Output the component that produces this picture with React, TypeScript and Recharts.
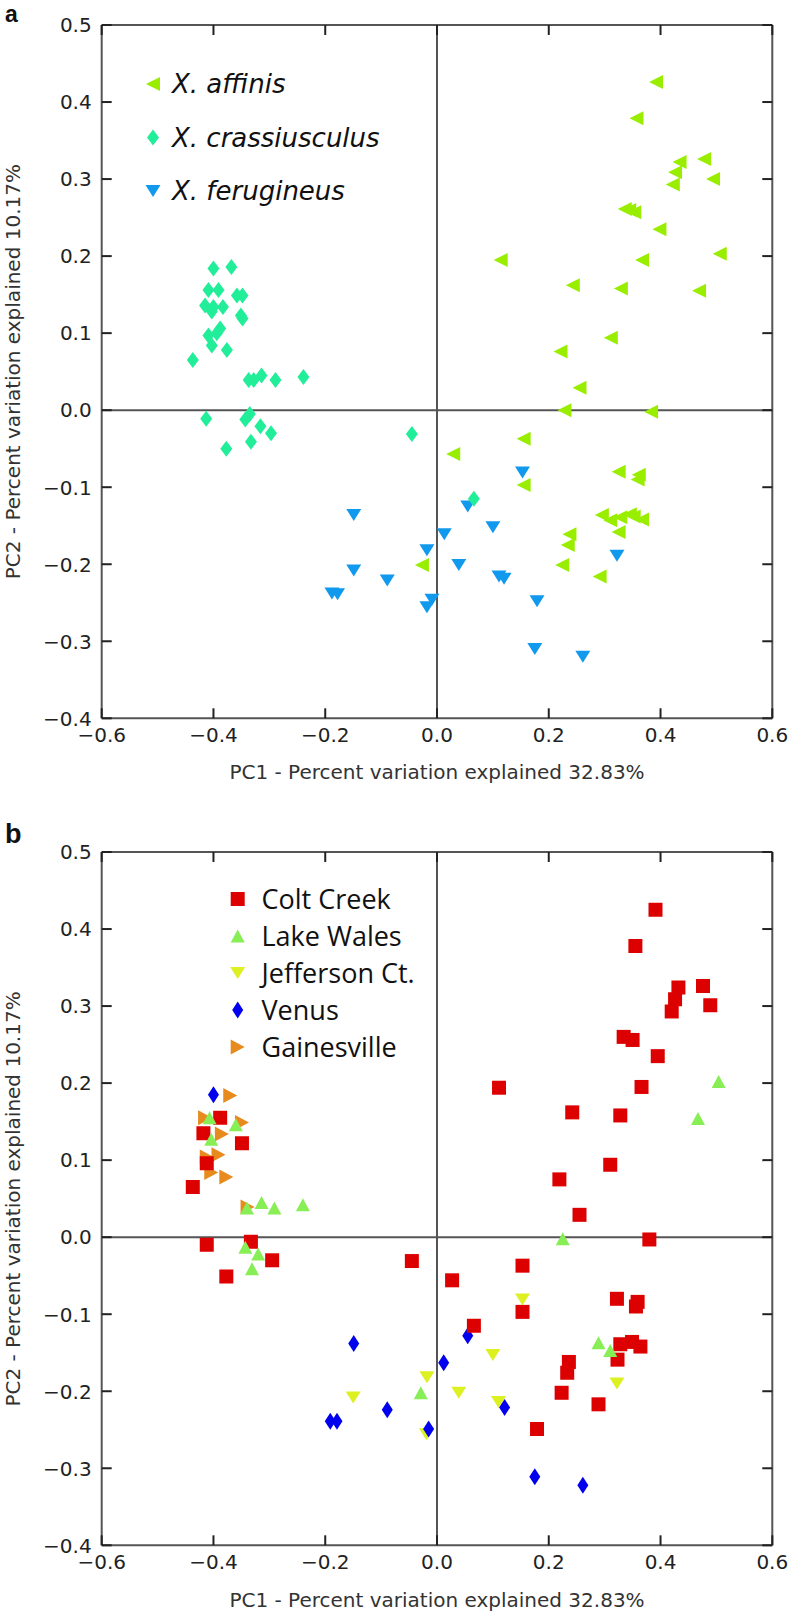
import React from 'react';
import { ScatterChart, Scatter, XAxis, YAxis, ReferenceLine } from 'recharts';

// ---------------- data ----------------
const xTicks = [-0.6, -0.4, -0.2, 0, 0.2, 0.4, 0.6];
const yTicks = [-0.4, -0.3, -0.2, -0.1, 0, 0.1, 0.2, 0.3, 0.4, 0.5];
const xTitle = 'PC1 - Percent variation explained 32.83%';
const yTitle = 'PC2 - Percent variation explained 10.17%';

// Panel a: by species
const affinisPts: [number, number][] = [
  [0.392, 0.426], [0.357, 0.379], [0.434, 0.322], [0.478, 0.326], [0.426, 0.309], [0.494, 0.3],
  [0.422, 0.293], [0.336, 0.261], [0.344, 0.26], [0.353, 0.257], [0.398, 0.235], [0.114, 0.195],
  [0.367, 0.195], [0.506, 0.203], [0.243, 0.162], [0.329, 0.158], [0.469, 0.155], [0.311, 0.094],
  [0.221, 0.076], [0.255, 0.029], [0.228, 0.0], [0.383, -0.002], [0.155, -0.037], [0.029, -0.057],
  [0.155, -0.097], [0.325, -0.08], [0.361, -0.084], [0.359, -0.09], [0.295, -0.136], [0.31, -0.143],
  [0.328, -0.139], [0.345, -0.135], [0.352, -0.138], [0.367, -0.142], [0.325, -0.158], [0.237, -0.161],
  [0.234, -0.175], [0.224, -0.201], [0.291, -0.216], [-0.027, -0.201],
];
const crassiusculusPts: [number, number][] = [
  [-0.4, 0.184], [-0.368, 0.186], [-0.409, 0.156], [-0.391, 0.156], [-0.415, 0.136], [-0.4, 0.134],
  [-0.383, 0.134], [-0.403, 0.128], [-0.358, 0.149], [-0.348, 0.149], [-0.351, 0.123], [-0.348, 0.119],
  [-0.409, 0.097], [-0.394, 0.1], [-0.388, 0.106], [-0.403, 0.084], [-0.376, 0.078], [-0.437, 0.065],
  [-0.337, 0.039], [-0.328, 0.039], [-0.314, 0.045], [-0.289, 0.039], [-0.239, 0.043], [-0.413, -0.011],
  [-0.343, -0.012], [-0.335, -0.005], [-0.316, -0.021], [-0.297, -0.03], [-0.333, -0.041], [-0.377, -0.05],
  [-0.045, -0.031], [0.066, -0.115],
];
const ferugineusPts: [number, number][] = [
  [-0.149, -0.136], [-0.149, -0.208], [-0.188, -0.238], [-0.178, -0.239], [-0.089, -0.221], [0.153, -0.081],
  [0.055, -0.125], [0.1, -0.152], [0.013, -0.161], [-0.018, -0.182], [0.039, -0.201], [0.111, -0.216],
  [0.12, -0.219], [0.322, -0.189], [-0.009, -0.246], [-0.018, -0.256], [0.179, -0.248], [0.175, -0.31],
  [0.261, -0.32],
];

// Panel b: by location
const coltCreekPts: [number, number][] = [
  [-0.388, 0.155], [-0.418, 0.135], [-0.349, 0.122], [-0.412, 0.096], [-0.437, 0.065], [-0.412, -0.01],
  [-0.333, -0.006], [-0.295, -0.03], [-0.377, -0.051], [0.391, 0.425], [0.355, 0.378], [0.432, 0.324],
  [0.476, 0.326], [0.426, 0.309], [0.489, 0.301], [0.42, 0.293], [0.334, 0.26], [0.35, 0.256],
  [0.395, 0.235], [0.111, 0.194], [0.366, 0.195], [0.242, 0.162], [0.328, 0.158], [0.31, 0.094],
  [0.219, 0.075], [0.255, 0.029], [0.38, -0.003], [-0.045, -0.031], [0.153, -0.037], [0.027, -0.056],
  [0.153, -0.097], [0.066, -0.115], [0.322, -0.08], [0.359, -0.084], [0.356, -0.09], [0.328, -0.139],
  [0.349, -0.136], [0.364, -0.142], [0.323, -0.159], [0.236, -0.162], [0.233, -0.176], [0.223, -0.202],
  [0.289, -0.217], [0.179, -0.249],
];
const lakeWalesPts: [number, number][] = [
  [-0.407, 0.155], [-0.36, 0.146], [-0.404, 0.127], [-0.34, 0.038], [-0.314, 0.045], [-0.291, 0.038],
  [-0.24, 0.042], [-0.343, -0.013], [-0.32, -0.022], [-0.331, -0.041], [0.504, 0.202], [0.467, 0.154],
  [0.225, -0.002], [0.289, -0.137], [0.31, -0.147], [-0.029, -0.202],
];
const jeffersonPts: [number, number][] = [
  [-0.15, -0.208], [0.153, -0.081], [0.1, -0.153], [-0.018, -0.182], [0.039, -0.202], [0.11, -0.214],
  [0.322, -0.19], [-0.019, -0.256],
];
const venusPts: [number, number][] = [
  [-0.4, 0.185], [-0.149, -0.138], [-0.191, -0.239], [-0.179, -0.239], [-0.089, -0.224], [0.055, -0.128],
  [0.012, -0.163], [-0.015, -0.249], [0.121, -0.221], [0.175, -0.311], [0.261, -0.322],
];
const gainesvillePts: [number, number][] = [
  [-0.37, 0.184], [-0.415, 0.155], [-0.349, 0.149], [-0.385, 0.134], [-0.391, 0.107], [-0.412, 0.104],
  [-0.404, 0.084], [-0.377, 0.078], [-0.339, 0.039],
];

// ---------------- styling ----------------
type Kind = 'left' | 'right' | 'up' | 'down' | 'diamond' | 'square';
type Series = { name: string; pts: [number, number][]; color: string; kind: Kind; w: number; h: number };

const seriesA: Series[] = [
  { name: 'X. ferugineus', pts: ferugineusPts, color: '#1199EE', kind: 'down', w: 15, h: 12 },
  { name: 'X. affinis', pts: affinisPts, color: '#99EE00', kind: 'left', w: 14, h: 14 },
  { name: 'X. crassiusculus', pts: crassiusculusPts, color: '#22EE99', kind: 'diamond', w: 12, h: 16 },
];
const legendA = [seriesA[1], seriesA[2], seriesA[0]];

const seriesB: Series[] = [
  { name: 'Jefferson Ct.', pts: jeffersonPts, color: '#DDF022', kind: 'down', w: 15, h: 12 },
  { name: 'Venus', pts: venusPts, color: '#0000EE', kind: 'diamond', w: 11, h: 17 },
  { name: 'Gainesville', pts: gainesvillePts, color: '#E88B1F', kind: 'right', w: 14, h: 15 },
  { name: 'Colt Creek', pts: coltCreekPts, color: '#DD0000', kind: 'square', w: 14, h: 14 },
  { name: 'Lake Wales', pts: lakeWalesPts, color: '#88EE55', kind: 'up', w: 14, h: 13 },
];
const legendB = [seriesB[3], seriesB[4], seriesB[0], seriesB[1], seriesB[2]];

const FRAME = '#555';
const TICKC = '#222';
const TICK_LEN = 10;
const FONT = "'DejaVu Sans', sans-serif";

const CHART_W = 792;
const CHART_H = 780;
const PLOT_TOP = 25;
const PLOT_LEFT = 101.7;
const PLOT_RIGHT = 772.3;
const PLOT_H = 693.3;
const PANEL_TOPS = [0, 827.3];

function markerPath(kind: Kind, cx: number, cy: number, w: number, h: number): string {
  const a = w / 2;
  const b = h / 2;
  switch (kind) {
    case 'left':
      return `M${cx - a},${cy} L${cx + a},${cy - b} L${cx + a},${cy + b} Z`;
    case 'right':
      return `M${cx + a},${cy} L${cx - a},${cy - b} L${cx - a},${cy + b} Z`;
    case 'up':
      return `M${cx},${cy - b} L${cx + a},${cy + b} L${cx - a},${cy + b} Z`;
    case 'down':
      return `M${cx},${cy + b} L${cx + a},${cy - b} L${cx - a},${cy - b} Z`;
    case 'diamond':
      return `M${cx},${cy - b} L${cx + a},${cy} L${cx},${cy + b} L${cx - a},${cy} Z`;
    default:
      return `M${cx - a},${cy - b} L${cx + a},${cy - b} L${cx + a},${cy + b} L${cx - a},${cy + b} Z`;
  }
}

const fmt = (v: number) => (v < -1e-9 ? '\u2212' : '') + Math.abs(v).toFixed(1);

const BottomTick = (p: any) => (
  <g>
    <line x1={p.x} y1={p.y} x2={p.x} y2={p.y - TICK_LEN} stroke={TICKC} strokeWidth={2} />
    <text x={p.x} y={p.y + 23.5} textAnchor="middle" fontFamily={FONT} fontSize={20} fill="#222">
      {fmt(p.payload.value)}
    </text>
  </g>
);
const TopTick = (p: any) => (
  <line x1={p.x} y1={p.y} x2={p.x} y2={p.y + TICK_LEN} stroke={TICKC} strokeWidth={2} />
);
const LeftTick = (p: any) => (
  <g>
    <line x1={p.x} y1={p.y} x2={p.x + TICK_LEN} y2={p.y} stroke={TICKC} strokeWidth={2} />
    <text x={p.x - 10} y={p.y + 7.3} textAnchor="end" fontFamily={FONT} fontSize={20} fill="#222">
      {fmt(p.payload.value)}
    </text>
  </g>
);
const RightTick = (p: any) => (
  <line x1={p.x} y1={p.y} x2={p.x - TICK_LEN} y2={p.y} stroke={TICKC} strokeWidth={2} />
);

function Panel({ series }: { series: Series[] }) {
  return (
    <ScatterChart
      width={CHART_W}
      height={CHART_H}
      margin={{ top: PLOT_TOP - 1, right: CHART_W - PLOT_RIGHT - 1, left: 0, bottom: CHART_H - PLOT_TOP - PLOT_H - 60 }}
    >
      <XAxis
        xAxisId={0}
        type="number"
        dataKey="x"
        domain={[-0.6, 0.6]}
        ticks={xTicks}
        interval={0}
        allowDataOverflow
        height={60}
        tickSize={0}
        tickMargin={0}
        tickLine={false}
        tick={<BottomTick />}
        axisLine={{ stroke: FRAME, strokeWidth: 2 }}
      />
      <XAxis
        xAxisId="top"
        orientation="top"
        type="number"
        dataKey="x"
        domain={[-0.6, 0.6]}
        ticks={xTicks}
        interval={0}
        allowDataOverflow
        height={1}
        tickSize={0}
        tickMargin={0}
        tickLine={false}
        tick={<TopTick />}
        axisLine={{ stroke: FRAME, strokeWidth: 2 }}
      />
      <YAxis
        yAxisId={0}
        type="number"
        dataKey="y"
        domain={[-0.4, 0.5]}
        ticks={yTicks}
        interval={0}
        allowDataOverflow
        width={PLOT_LEFT}
        tickSize={0}
        tickMargin={0}
        tickLine={false}
        tick={<LeftTick />}
        axisLine={{ stroke: FRAME, strokeWidth: 2 }}
      />
      <YAxis
        yAxisId="right"
        orientation="right"
        type="number"
        dataKey="y"
        domain={[-0.4, 0.5]}
        ticks={yTicks}
        interval={0}
        allowDataOverflow
        width={1}
        tickSize={0}
        tickMargin={0}
        tickLine={false}
        tick={<RightTick />}
        axisLine={{ stroke: FRAME, strokeWidth: 2 }}
      />
      {series.map((s) => (
        <Scatter
          key={s.name}
          name={s.name}
          data={s.pts.map(([x, y]) => ({ x, y }))}
          xAxisId={0}
          yAxisId={0}
          isAnimationActive={false}
          fill={s.color}
          shape={(p: any) => <path d={markerPath(s.kind, p.cx, p.cy, s.w, s.h)} fill={s.color} />}
        />
      ))}
      <ReferenceLine x={0} xAxisId={0} yAxisId={0} stroke={FRAME} strokeWidth={2} />
      <ReferenceLine y={0} xAxisId={0} yAxisId={0} stroke={FRAME} strokeWidth={2} />
    </ScatterChart>
  );
}

function Overlay() {
  const cx = (PLOT_LEFT + PLOT_RIGHT) / 2;
  const legA = [84, 137.5, 191];
  const legB = [899, 936, 973, 1010, 1047];
  return (
    <svg width={792} height={1615} style={{ position: 'absolute', left: 0, top: 0, pointerEvents: 'none' }}>
      {PANEL_TOPS.map((t, i) => {
        const pTop = t + PLOT_TOP;
        const pBot = pTop + PLOT_H;
        const cy = (pTop + pBot) / 2;
        return (
          <g key={i}>
            <text x={cx} y={pBot + 61} textAnchor="middle" fontFamily={FONT} fontSize={20} fill="#333">
              {xTitle}
            </text>
            <text transform={`translate(20, ${cy}) rotate(-90)`} textAnchor="middle" fontFamily={FONT} fontSize={20} fill="#333">
              {yTitle}
            </text>
          </g>
        );
      })}
      <text x={5} y={22} fontFamily="'Liberation Sans', Arial, sans-serif" fontWeight="bold" fontSize={23} fill="#111">a</text>
      <text x={5} y={843} fontFamily="'Liberation Sans', Arial, sans-serif" fontWeight="bold" fontSize={27} fill="#111">b</text>
      {legendA.map((s, i) => (
        <g key={s.name}>
          <path d={markerPath(s.kind, 153, legA[i], s.w, s.h)} fill={s.color} />
          <text x={172} y={legA[i] + 9.4} fontFamily={FONT} fontStyle="italic" fontSize={26} fill="#111">
            {s.name}
          </text>
        </g>
      ))}
      {legendB.map((s, i) => (
        <g key={s.name}>
          <path d={markerPath(s.kind, 237.7, legB[i], s.w, s.h)} fill={s.color} />
          <text x={261.5} y={legB[i] + 9.5} fontFamily="'Open Sans', sans-serif" fontSize={27} fill="#111">
            {s.name}
          </text>
        </g>
      ))}
    </svg>
  );
}

export default function App() {
  return (
    <div style={{ position: 'absolute', left: 0, top: 0, width: 792, height: 1615, background: '#fff', overflow: 'hidden' }}>
      <div style={{ position: 'absolute', left: 0, top: PANEL_TOPS[0] }}>
        <Panel series={seriesA} />
      </div>
      <div style={{ position: 'absolute', left: 0, top: PANEL_TOPS[1] }}>
        <Panel series={seriesB} />
      </div>
      <Overlay />
    </div>
  );
}
